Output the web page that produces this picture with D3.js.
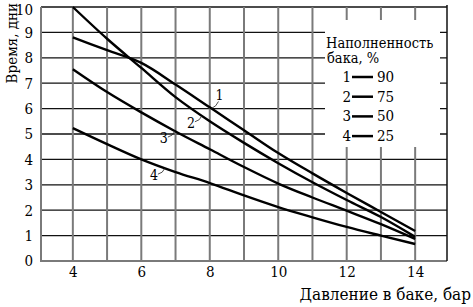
<!DOCTYPE html>
<html>
<head>
<meta charset="utf-8">
<script src="https://cdn.jsdelivr.net/npm/d3@7"></script>
<style>
  body { margin: 0; background: #fff; }
</style>
</head>
<body>
<div id="chart"></div>
<script>
// Chart size
const width = 473;
const height = 307;
const serif = "'DejaVu Serif Condensed', 'DejaVu Serif', serif";

// Pressure values (bar) where the curves were read
const pressure = [4, 5, 6, 7, 8, 9, 10, 11, 12, 13, 14];

// Time (days) for each tank fill level
const fill90 = [8.8, 8.3, 7.8, 6.95, 6.05, 5.15, 4.25, 3.45, 2.68, 1.93, 1.18];
const fill75 = [10.0, 8.75, 7.6, 6.45, 5.5, 4.65, 3.85, 3.1, 2.4, 1.73, 0.95];
const fill50 = [7.55, 6.65, 5.85, 5.1, 4.4, 3.7, 3.05, 2.5, 1.98, 1.45, 0.87];
const fill25 = [5.23, 4.6, 4.0, 3.5, 3.07, 2.58, 2.12, 1.72, 1.34, 1.0, 0.67];

const curveNumbers = ["1", "2", "3", "4"];
const fillLevels = ["90", "75", "50", "25"];
// pressure at which each curve's number label points
const labelPressure = [8.05, 7.77, 6.98, 6.69];

const xTicks = [4, 6, 8, 10, 12, 14];
const yTicks = [0, 1, 2, 3, 4, 5, 6, 7, 8, 9, 10];
const xGrid = [4, 5, 6, 7, 8, 9, 10, 11, 12, 13, 14];

const series = [fill90, fill75, fill50, fill25];

function main() {
    const svg = d3.select("#chart").append("svg")
        .attr("width", width)
        .attr("height", height)
        .style("display", "block")
        .attr("font-family", serif);

    const x = d3.scaleLinear().domain([3.07, 14.93]).range([41, 447]);
    const y = d3.scaleLinear().domain([0, 10]).range([261, 7]);

    const [x0, x1] = x.range();
    const [y0, y1] = y.range();

    // horizontal grid lines
    svg.append("g")
        .selectAll("line")
        .data(yTicks.filter(d => d > 0))
        .join("line")
        .attr("x1", x0).attr("x2", x1)
        .attr("y1", d => y(d)).attr("y2", d => y(d))
        .attr("stroke", "#111")
        .attr("stroke-width", 1.3);

    // vertical grid lines
    svg.append("g")
        .selectAll("line")
        .data(xGrid)
        .join("line")
        .attr("x1", d => x(d)).attr("x2", d => x(d))
        .attr("y1", y0).attr("y2", y1)
        .attr("stroke", "#7a7a7a")
        .attr("stroke-width", 2);

    // frame: left and bottom gray, top and right dark
    svg.append("line").attr("x1", x0).attr("x2", x0).attr("y1", y0 + 1).attr("y2", y1)
        .attr("stroke", "#7a7a7a").attr("stroke-width", 2);
    svg.append("line").attr("x1", x0 - 1).attr("x2", x1).attr("y1", y0).attr("y2", y0)
        .attr("stroke", "#7a7a7a").attr("stroke-width", 2);
    svg.append("line").attr("x1", x1).attr("x2", x1).attr("y1", y0).attr("y2", y1 - 2)
        .attr("stroke", "#111").attr("stroke-width", 1.5);

    // legend background covering the grid
    svg.append("rect")
        .attr("x", 325).attr("y", 20)
        .attr("width", 115).attr("height", 127)
        .attr("fill", "#fff");

    // curves
    const line = d3.line()
        .x((d, i) => x(pressure[i]))
        .y(d => y(d))
        .curve(d3.curveMonotoneX);

    svg.append("g")
        .selectAll("path")
        .data(series)
        .join("path")
        .attr("d", line)
        .attr("fill", "none")
        .attr("stroke", "#000")
        .attr("stroke-width", 2.4);

    // curve number labels with leaders
    const valueAt = (s, p) => d3.scaleLinear().domain(pressure).range(s)(p);
    const labels = svg.append("g");
    series.forEach((s, i) => {
        const px = x(labelPressure[i]);
        const py = y(valueAt(s, labelPressure[i]));
        const up = i === 0;
        const tx = up ? px + 7 : px - 7;
        const ty = up ? py - 7 : py + 6;
        labels.append("path")
            .attr("d", up
                ? `M${px},${py} Q${px + 5},${py - 2} ${tx},${ty}`
                : `M${px},${py} Q${px - 2},${py + 5} ${tx},${ty}`)
            .attr("fill", "none")
            .attr("stroke", "#222")
            .attr("stroke-width", 0.8);
        labels.append("text")
            .attr("x", up ? tx - 3 : tx - 8)
            .attr("y", up ? ty - 1 : ty + 6)
            .attr("font-size", 14)
            .text(curveNumbers[i]);
    });

    // y axis labels
    svg.append("g")
        .attr("transform", `translate(${x0},0)`)
        .call(d3.axisLeft(y).tickValues(yTicks).tickSize(0).tickPadding(8))
        .attr("font-family", serif)
        .attr("font-size", 15)
        .call(g => g.select(".domain").remove())
        .call(g => g.selectAll("text")
            .attr("fill", "#000")
            .attr("dy", d => d === 10 ? "0.5em" : "0.32em"));

    // x axis labels
    svg.append("g")
        .attr("transform", `translate(0,${y0})`)
        .call(d3.axisBottom(x).tickValues(xTicks).tickSize(0).tickPadding(5))
        .attr("font-family", serif)
        .attr("font-size", 15)
        .call(g => g.select(".domain").remove())
        .call(g => g.selectAll("text").attr("fill", "#000"));

    // axis titles
    svg.append("text")
        .attr("x", 471).attr("y", 300)
        .attr("text-anchor", "end")
        .attr("font-size", 17)
        .text("Давление в баке, бар");

    svg.append("text")
        .attr("transform", "translate(17,3) rotate(-90)")
        .attr("text-anchor", "end")
        .attr("font-size", 15)
        .text("Время, дни");

    // legend
    const legend = svg.append("g");
    legend.append("text").attr("x", 326).attr("y", 48).attr("font-size", 14.5).text("Наполненность");
    legend.append("text").attr("x", 327).attr("y", 63).attr("font-size", 14.5).text("бака, %");

    const rows = legend.selectAll("g.row")
        .data(fillLevels)
        .join("g")
        .attr("class", "row")
        .attr("transform", (d, i) => `translate(0,${77 + i * 19.7})`);
    rows.append("text")
        .attr("x", 351).attr("y", 5)
        .attr("text-anchor", "end")
        .attr("font-size", 15)
        .text((d, i) => curveNumbers[i]);
    rows.append("line")
        .attr("x1", 352).attr("x2", 373)
        .attr("y1", 0).attr("y2", 0)
        .attr("stroke", "#000")
        .attr("stroke-width", 2.5);
    rows.append("text")
        .attr("x", 377).attr("y", 5)
        .attr("font-size", 15)
        .text(d => d);
}

main();
</script>
</body>
</html>
